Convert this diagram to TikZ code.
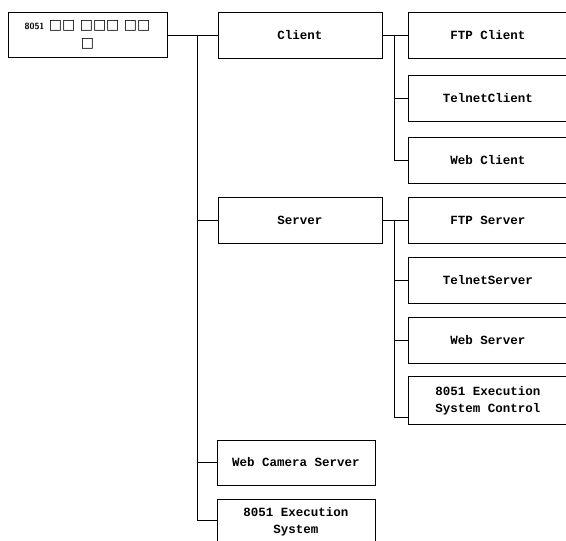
\documentclass[tikz,border=0pt]{standalone}
\usepackage{fontspec}
\setmonofont{Liberation Mono}
\newfontfamily\symfont{DejaVu Sans}
\usetikzlibrary{positioning}

\begin{document}
\begin{tikzpicture}[x=1pt, y=1pt, node distance=60pt, line width=1pt]
    % Styles
    \tikzstyle{block} = [draw, rectangle, minimum height=46pt, minimum width=160pt, align=center,
                         font=\ttfamily\bfseries\fontsize{12.5}{17}\selectfont]
    \tikzstyle{rootblock} = [draw, rectangle, minimum height=45pt, minimum width=159pt, align=center,
                         font=\symfont\fontsize{14}{18}\selectfont]

    \useasboundingbox (0,0) rectangle (566,-541);

    % Nodes
    \node [rootblock] (root) at (87.5,-35) {{\sffamily\bfseries\fontsize{9}{10}\selectfont 8051} □□ □□□ □□\\□};
    \node [block, minimum width=164pt, right of=root, node distance=212.5pt] (client) {Client};
    \node [block, right of=client, node distance=188pt] (ftpclient) {FTP Client};
    \node [block, below of=ftpclient, node distance=63pt] (telnetclient) {TelnetClient};
    \node [block, below of=telnetclient, node distance=62pt] (webclient) {Web Client};

    \node [block, minimum width=164pt, below of=client, node distance=185pt] (server) {Server};
    \node [block, right of=server, node distance=188pt] (ftpserver) {FTP Server};
    \node [block, below of=ftpserver] (telnetserver) {TelnetServer};
    \node [block, below of=telnetserver] (webserver) {Web Server};
    \node [block, minimum height=48pt, below of=webserver, node distance=60.5pt] (execctrl) {8051 Execution\\System Control};

    \node [block, minimum width=158pt, minimum height=45pt, below of=server, node distance=242.5pt, xshift=-4pt] (webcam) {Web Camera Server};
    \node [block, minimum width=158pt, minimum height=45pt, below of=webcam, node distance=59pt] (execsys) {8051 Execution\\System};

    % Connections
    \coordinate [right=30pt of root.east] (trunk);
    \coordinate [right=12pt of client.east] (cbus);
    \coordinate [right=12pt of server.east] (sbus);

    \draw (root.east) -- (client.west);
    \draw (trunk) |- (server.west);
    \draw (trunk) |- (webcam.west);
    \draw (trunk) |- ([yshift=1.5pt]execsys.west);

    \draw (client.east) -- (ftpclient.west);
    \draw (cbus) |- (telnetclient.west);
    \draw (cbus) |- (webclient.west);

    \draw (server.east) -- (ftpserver.west);
    \draw (sbus) |- (telnetserver.west);
    \draw (sbus) |- (webserver.west);
    \draw (sbus) |- ([yshift=-17pt]execctrl.west);
\end{tikzpicture}
\end{document}
